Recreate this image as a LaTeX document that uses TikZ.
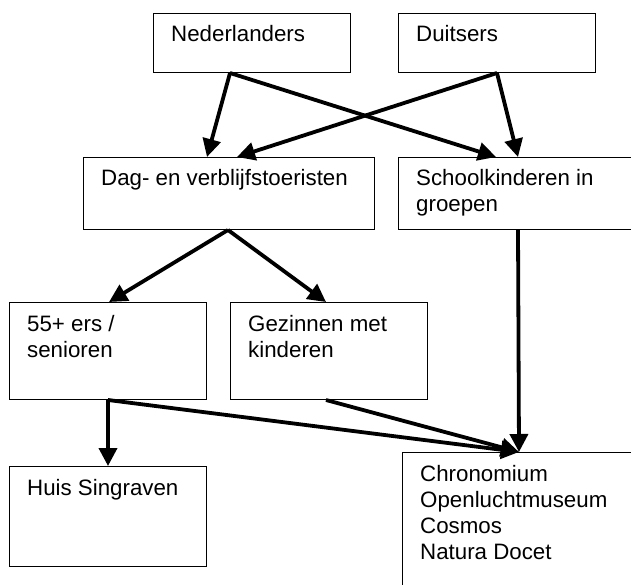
\documentclass[tikz,border=0pt]{standalone}
\usepackage{fontspec}
\setmainfont{Liberation Sans}
\usetikzlibrary{arrows.meta,calc}
\newcommand\txtlines[1]{\vtop{\baselineskip=26pt\lineskiplimit=-20pt\halign{##\hfil\cr#1\crcr}}}
\tikzset{
  box/.style={draw, line width=1pt, rectangle, inner sep=0pt, anchor=north west},
  txt/.style={anchor=base west, inner sep=0pt, font=\fontsize{22.3}{26}\selectfont},
  arr/.style={line width=3.8pt, -{Triangle[length=18pt,width=18pt]}}
}
\newcommand\mkbox[6]{%
  \node[box, minimum width=#4pt-#2pt, minimum height=#5pt-#3pt] (#1) at (#2,#3) {};
  \node[txt] (#1t) at ([xshift=18pt,yshift=-29pt]#1.north west) {\txtlines{#6}};
}
\begin{document}
\begin{tikzpicture}[x=1pt,y=-1pt]
\useasboundingbox (0,0) rectangle (631,585);
\clip (0,0) rectangle (631,585);
\fill[white] (0,0) rectangle (631,585);
\mkbox{ned}{153}{13}{350}{72}{Nederlanders}
\mkbox{dui}{398}{13}{595}{72}{Duitsers}
\mkbox{dag}{83}{157}{374}{229}{Dag- en verblijfstoeristen}
\mkbox{sch}{398}{157}{660}{229}{Schoolkinderen in\cr groepen}
\mkbox{sen}{9}{302}{206}{399}{55+ ers /\cr senioren}
\mkbox{gez}{230}{302}{427}{399}{Gezinnen met\cr kinderen}
\mkbox{huis}{9}{466}{206}{566}{Huis Singraven}
\mkbox{chr}{402}{452}{660}{620}{Chronomium\cr Openluchtmuseum\cr Cosmos\cr Natura Docet}
% connectors
\coordinate (nedo) at ([xshift=77pt]ned.south west);
\coordinate (duio) at ([xshift=99pt]dui.south west);
\coordinate (dago) at ([xshift=145pt]dag.south west);
\coordinate (seno) at ([xshift=99pt]sen.south west);
\coordinate (gezo) at ([xshift=96pt]gez.south west);
\coordinate (chri) at ([xshift=117pt]chr.north west);
\draw[arr] (nedo) -- ([xshift=124pt]dag.north west);
\draw[arr] (nedo) -- ([xshift=98pt]sch.north west);
\draw[arr] (duio) -- ([xshift=154pt]dag.north west);
\draw[arr] (duio) -- ([xshift=120pt]sch.north west);
\draw[arr] (dago) -- ([xshift=100pt]sen.north west);
\draw[arr] (dago) -- ([xshift=96pt]gez.north west);
\draw[arr] ([xshift=120pt]sch.south west) -- (chri);
\draw[arr] (seno) -- ([xshift=99pt]huis.north west);
\draw[arr] (seno) -- (chri);
\draw[arr] (gezo) -- (chri);
\end{tikzpicture}
\end{document}
